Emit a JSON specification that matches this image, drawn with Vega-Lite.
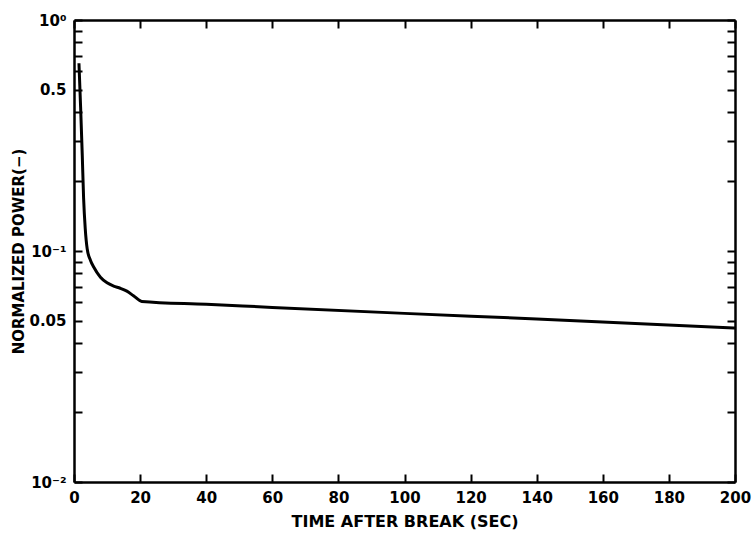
{
  "$schema": "https://vega.github.io/schema/vega-lite/v6.json",
  "autosize": {"type": "none"},
  "padding": {"left": 74, "top": 20, "right": 21, "bottom": 57},
  "width": 661,
  "height": 462,
  "background": "white",
  "config": {
    "view": {"stroke": null},
    "font": "DejaVu Sans",
    "axis": {
      "domainColor": "black",
      "domainWidth": 2.5,
      "tickColor": "black",
      "tickWidth": 2,
      "grid": false,
      "labelColor": "black",
      "titleColor": "black",
      "labelFont": "DejaVu Sans",
      "titleFont": "DejaVu Sans",
      "labelFontWeight": "bold",
      "titleFontWeight": "bold"
    }
  },
  "data": {
    "values": [
      {"t": 1.5, "p": 0.65},
      {"t": 2.0, "p": 0.42},
      {"t": 2.5, "p": 0.26},
      {"t": 2.9, "p": 0.17},
      {"t": 3.4, "p": 0.125},
      {"t": 4.0, "p": 0.102},
      {"t": 5.0, "p": 0.091},
      {"t": 6.0, "p": 0.085},
      {"t": 8.0, "p": 0.077},
      {"t": 10.0, "p": 0.0728},
      {"t": 12.0, "p": 0.0705},
      {"t": 14.0, "p": 0.069},
      {"t": 16.0, "p": 0.067},
      {"t": 18.0, "p": 0.064},
      {"t": 20.5, "p": 0.0605},
      {"t": 40.0, "p": 0.0588},
      {"t": 60.0, "p": 0.057},
      {"t": 100.0, "p": 0.0537},
      {"t": 140.0, "p": 0.0508},
      {"t": 200.0, "p": 0.0464}
    ]
  },
  "layer": [
    {
      "mark": {"type": "line", "color": "black", "strokeWidth": 3, "interpolate": "monotone", "clip": true},
      "encoding": {
        "x": {
          "field": "t",
          "type": "quantitative",
          "scale": {"domain": [0, 200], "nice": false, "zero": false},
          "axis": {
            "orient": "bottom",
            "title": "TIME AFTER BREAK (SEC)",
            "titleFontSize": 16,
            "titlePadding": 8,
            "labelFontSize": 15,
            "values": [0, 20, 40, 60, 80, 100, 120, 140, 160, 180, 200],
            "tickSize": -8,
            "labelPadding": 16,
            "labelFlush": false
          }
        },
        "y": {
          "field": "p",
          "type": "quantitative",
          "scale": {"type": "log", "domain": [0.01, 1], "nice": false},
          "axis": {
            "orient": "left",
            "title": "NORMALIZED POWER(−)",
            "titleFontSize": 15,
            "titlePadding": 2,
            "labelFontSize": 15,
            "values": [0.01, 0.02, 0.03, 0.04, 0.05, 0.06, 0.07, 0.08, 0.09, 0.1, 0.2, 0.3, 0.4, 0.5, 0.6, 0.7, 0.8, 0.9, 1],
            "labelExpr": "datum.value == 1 ? '10⁰' : datum.value == 0.5 ? '0.5' : datum.value == 0.1 ? '10⁻¹' : datum.value == 0.05 ? '0.05' : datum.value == 0.01 ? '10⁻²' : ''",
            "tickSize": -8,
            "labelPadding": 16,
            "labelFlush": false
          }
        }
      }
    },
    {
      "mark": {"type": "line", "opacity": 0},
      "encoding": {
        "x": {
          "field": "t",
          "type": "quantitative",
          "scale": {"domain": [0, 200], "nice": false, "zero": false},
          "axis": {
            "orient": "top",
            "title": null,
            "labels": false,
            "values": [0, 20, 40, 60, 80, 100, 120, 140, 160, 180, 200],
            "tickSize": -8
          }
        },
        "y": {
          "field": "p",
          "type": "quantitative",
          "scale": {"type": "log", "domain": [0.01, 1], "nice": false},
          "axis": {
            "orient": "right",
            "title": null,
            "labels": false,
            "values": [0.01, 0.02, 0.03, 0.04, 0.05, 0.06, 0.07, 0.08, 0.09, 0.1, 0.2, 0.3, 0.4, 0.5, 0.6, 0.7, 0.8, 0.9, 1],
            "tickSize": -8
          }
        }
      }
    }
  ],
  "resolve": {"axis": {"x": "independent", "y": "independent"}}
}
